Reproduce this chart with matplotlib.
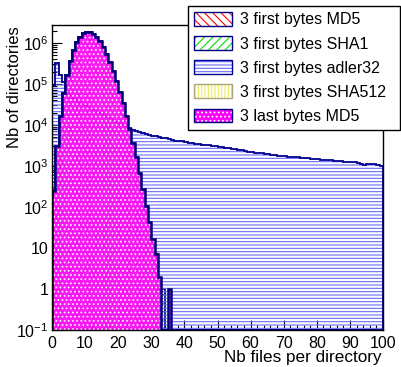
import numpy as np
import matplotlib
matplotlib.use('Agg')
import matplotlib.pyplot as plt
from matplotlib.patches import Patch
from matplotlib.ticker import FuncFormatter, LogLocator, NullFormatter, MultipleLocator

plt.rcParams['font.family'] = ['Liberation Sans', 'DejaVu Sans']
plt.rcParams['mathtext.fontset'] = 'custom'
plt.rcParams['mathtext.rm'] = 'Liberation Sans'
plt.rcParams['mathtext.default'] = 'regular'
plt.rcParams['hatch.linewidth'] = 0.8

# ---- data: number of directories per "number of files in directory" bin (0..99) ----
labels = ["3 first bytes MD5", "3 first bytes SHA1", "3 first bytes adler32",
          "3 first bytes SHA512", "3 last bytes MD5"]

md5_first = [250, 3100, 16500, 60000, 165000, 360000, 660000, 1040000, 1420000, 1720000,
             1880000, 1870000, 1700000, 1430000, 1110000, 800000, 545000, 350000, 210000, 120000,
             65000, 34000, 16800, 7900, 3600, 1650, 690, 275, 105, 42,
             17, 7, 1, 0, 0, 0] + [0] * 64
sha1_first = [255, 3080, 16600, 60200, 164800, 360500, 659500, 1040500, 1419000, 1721000,
              1879000, 1871000, 1699000, 1431000, 1109000, 801000, 544000, 351000, 209500, 120400,
              64800, 34100, 16750, 7950, 3580, 1660, 685, 278, 103, 43,
              16, 6, 1, 1, 0, 0] + [0] * 64
adler32_first = [90000, 325000, 165000, 112000, 60000, 50000, 44700, 39800, 35500, 31600,
                 28800, 26300, 23400, 21400, 19100, 17400, 15800, 14500, 12900, 11700,
                 10700, 9800, 9100, 8300, 7600, 7100, 6600, 6300, 6000, 5750,
                 5500, 5250, 5000, 4900, 4700, 4470, 4370, 4170, 4070, 3980,
                 3800, 3700, 3600, 3500, 3420, 3330, 3260, 3170, 3090, 3020,
                 2950, 2880, 2800, 2720, 2630, 2560, 2480, 2400, 2320, 2240,
                 2180, 2130, 2080, 2040, 1990, 1950, 1900, 1860, 1800, 1760,
                 1730, 1700, 1670, 1650, 1620, 1590, 1570, 1540, 1510, 1480,
                 1460, 1440, 1410, 1390, 1370, 1350, 1330, 1310, 1280, 1260,
                 1240, 1220, 1200, 1120, 1070, 1090, 1140, 1100, 1050, 1020]
sha512_first = [248, 3110, 16450, 59900, 165200, 359600, 660400, 1039600, 1420500, 1719500,
                1880500, 1869500, 1700600, 1429400, 1110600, 799400, 545600, 349500, 210400, 119700,
                65200, 33900, 16850, 7880, 3620, 1640, 695, 272, 107, 41,
                18, 8, 2, 0, 0, 0] + [0] * 64
md5_last = [252, 3095, 16520, 60100, 164900, 360200, 659800, 1040200, 1419600, 1720400,
            1879600, 1870400, 1700200, 1430600, 1109500, 800600, 545300, 350400, 209800, 120200,
            64900, 34050, 16780, 7920, 3590, 1655, 688, 276, 104, 42,
            17, 7, 2, 0, 0, 1] + [0] * 64

series = [md5_first, sha1_first, adler32_first, sha512_first, md5_last]
hatch_colors = ['#ff0000', '#00e000', '#6a6aff', '#eeee55', '#ff00ff']
hatches = ['\\\\\\\\', '////', '-----', '|||||', None]
line_colors = ['#000080', '#000080', '#000090', '#a8a878', '#00007a']
line_widths = [1.2, 1.2, 1.3, 1.0, 1.8]

edges = np.arange(0, 101)
ymin = 0.1

fig = plt.figure(figsize=(4.01, 3.67), dpi=100)
ax = fig.add_axes([52 / 401, 37 / 367, (383 - 52) / 401, (330 - 25) / 367])
ax.set_yscale('log')
ax.set_xlim(0, 100)
ax.set_ylim(ymin, 2.75e6)

for i, vals in enumerate(series):
    v = np.maximum(np.asarray(vals, dtype=float), ymin)
    if i == 4:
        ax.stairs(v, edges, baseline=ymin, fill=True, facecolor='#ff00ff',
                  edgecolor='white', hatch='....', linewidth=0, alpha=0.88, zorder=2 + i)
    else:
        ax.stairs(v, edges, baseline=ymin, fill=True, facecolor='none',
                  edgecolor=hatch_colors[i], hatch=hatches[i], linewidth=0, zorder=2 + i)
    ax.stairs(v, edges, baseline=ymin, fill=False, edgecolor=line_colors[i],
              linewidth=line_widths[i], zorder=2.5 + i)

# axes styling (ROOT-like)
for s in ax.spines.values():
    s.set_linewidth(1.0)
    s.set_zorder(20)
ax.xaxis.set_major_locator(MultipleLocator(10))
ax.xaxis.set_minor_locator(MultipleLocator(2))
ax.yaxis.set_major_locator(LogLocator(base=10, numticks=20))
ax.yaxis.set_minor_locator(LogLocator(base=10, subs=np.arange(2, 10), numticks=20))
ax.yaxis.set_minor_formatter(NullFormatter())


def yfmt(v, pos):
    e = int(round(np.log10(v)))
    if e == 0:
        return '1'
    if e == 1:
        return '10'
    return r'$\mathdefault{10^{%d}}$' % e


ax.yaxis.set_major_formatter(FuncFormatter(yfmt))
ax.tick_params(axis='both', which='both', direction='in', top=False, right=False)
ax.tick_params(axis='both', which='major', length=7, width=0.8, labelsize=11.5)
ax.tick_params(axis='both', which='minor', length=3.5, width=0.8)
ax.tick_params(axis='x', which='major', pad=4.5)
ax.tick_params(axis='y', which='major', pad=2.5)

fig.text(381.7 / 401, (367 - 362) / 367, "Nb files per directory", ha='right',
         va='baseline', fontsize=12.3)
fig.text(15 / 401, (367 - 26) / 367, "Nb of directories", ha='center', va='top',
         rotation=90, fontsize=12)

handles = []
for i in range(5):
    if i == 4:
        fill = Patch(facecolor='#ff00ff', edgecolor='white', hatch='....', linewidth=0)
    else:
        fill = Patch(facecolor='white', edgecolor=hatch_colors[i], hatch=hatches[i], linewidth=0)
    border = Patch(facecolor='none', edgecolor=line_colors[i], linewidth=1.0)
    handles.append((fill, border))

leg_h = 125 / 367
leg = ax.legend(handles, labels, loc='upper left',
                bbox_to_anchor=(188 / 401, 1 - 6 / 367 - leg_h, 212 / 401, leg_h),
                mode='expand', bbox_transform=fig.transFigure, fontsize=11.5, frameon=True,
                fancybox=False, framealpha=1, edgecolor='black', facecolor='white',
                handlelength=2.4, handleheight=0.94, labelspacing=0.55, borderpad=0.38,
                handletextpad=0.5, borderaxespad=0)
leg.get_frame().set_linewidth(1.0)
leg.set_zorder(30)

fig.savefig('out.png', dpi=100)
